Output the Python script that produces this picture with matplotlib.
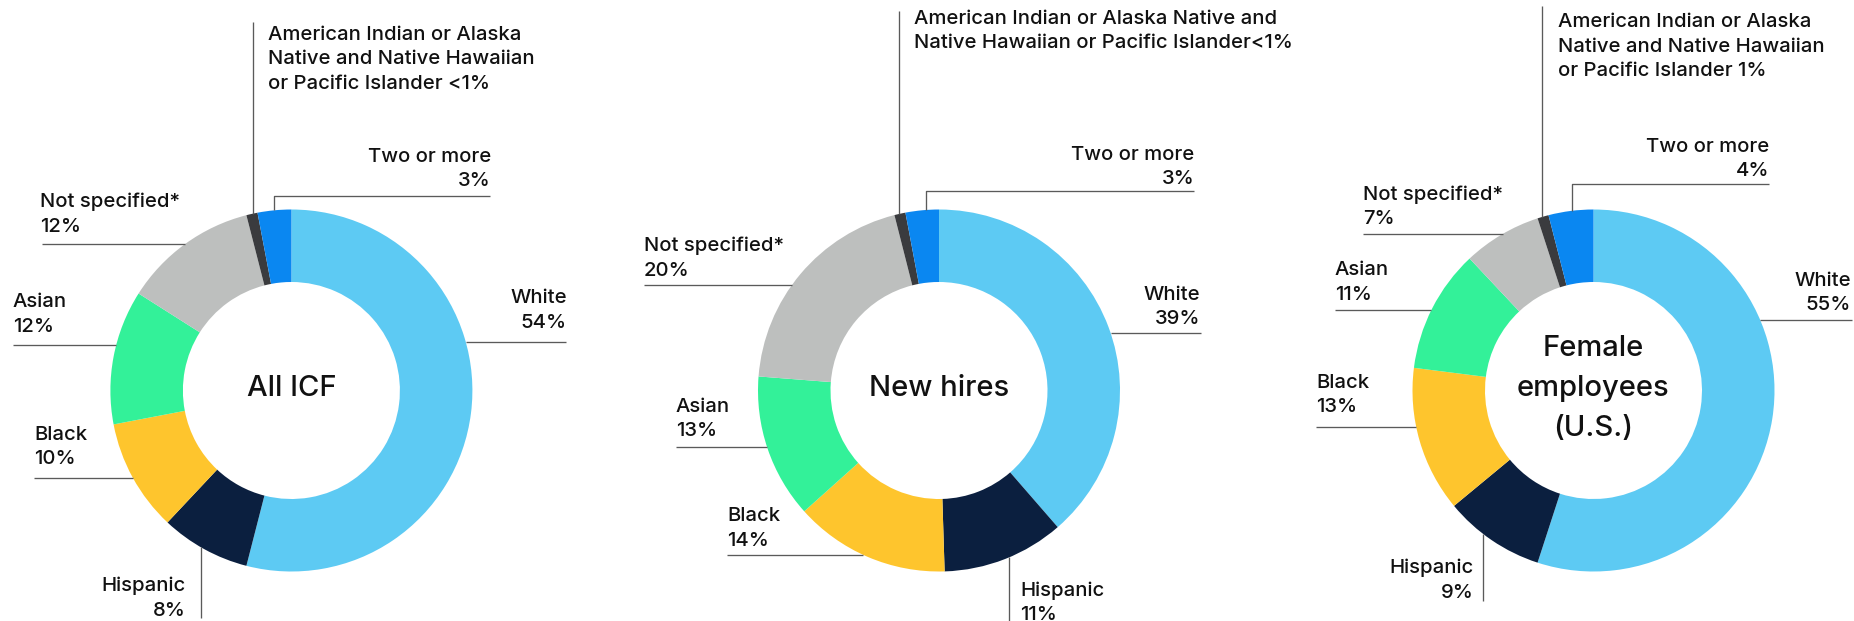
import matplotlib
matplotlib.use("Agg")
import matplotlib.pyplot as plt
import numpy as np

W, H = 1854, 621
plt.rcParams['font.family'] = ['Inter', 'DejaVu Sans']

categories = ["White", "Hispanic", "Black", "Asian", "Not specified*",
              "American Indian or Alaska Native and Native Hawaiian or Pacific Islander",
              "Two or more"]
colors = ["#5DCAF3", "#0B1F3F", "#FEC52D", "#33F199", "#BDBFBE", "#3A3B3E", "#0A87F1"]

all_icf = [54, 8, 10, 12, 12, 1, 3]
new_hires = [39, 11, 14, 13, 20, 1, 3]
female = [55, 9, 13, 11, 7, 1, 4]

all_icf_pct = ["54%", "8%", "10%", "12%", "12%", "<1%", "3%"]
new_hires_pct = ["39%", "11%", "14%", "13%", "20%", "<1%", "3%"]
female_pct = ["55%", "9%", "13%", "11%", "7%", "1%", "4%"]

titles = ["All ICF", "New hires", "Female\nemployees\n(U.S.)"]

aian_text = [
    "American Indian or Alaska\nNative and Native Hawaiian\nor Pacific Islander {}",
    "American Indian or Alaska Native and\nNative Hawaiian or Pacific Islander{}",
    "American Indian or Alaska\nNative and Native Hawaiian\nor Pacific Islander {}",
]

# ---- layout (pixel coordinates, y downward) ----
CY = 390.5
R = 181.0
RW = 72.5
centers = [291.4, 939.0, 1593.5]
FS = 14.6
LH = 24.5
LINE_C = "#5a5a5a"
TXT_C = "#111111"
WEIGHT = 500

layouts = [
    {
        0: dict(kind='h', x=567, ha='right', b=303, ly=342, lx=566, side=1),
        1: dict(kind='vb', x=186, ha='right', b=591, lx=200.8, lend=618),
        2: dict(kind='h', x=34, ha='left', b=440, ly=478, lx=34, side=-1),
        3: dict(kind='h', x=13, ha='left', b=307, ly=345, lx=13, side=-1),
        4: dict(kind='h', x=40, ha='left', b=207, ly=244.4, lx=42, side=-1),
        5: dict(kind='vt', x=268, ha='left', b=40, lx=252.8, ltop=22),
        6: dict(kind='elbow', x=491, ha='right', b=162, ly=195.6, lx=490.4, vx=274.4),
    },
    {
        0: dict(kind='h', x=1200, ha='right', b=300, ly=333, lx=1201, side=1),
        1: dict(kind='vb', x=1020, ha='left', b=596, lx=1009, lend=621),
        2: dict(kind='h', x=727, ha='left', b=521, ly=555, lx=727, side=-1),
        3: dict(kind='h', x=676, ha='left', b=412, ly=447, lx=676, side=-1),
        4: dict(kind='h', x=644, ha='left', b=251, ly=285, lx=644, side=-1),
        5: dict(kind='vt', x=914.4, ha='left', b=24, lx=899.2, ltop=11),
        6: dict(kind='elbow', x=1194.4, ha='right', b=160, ly=191, lx=1194.4, vx=926),
    },
    {
        0: dict(kind='h', x=1851, ha='right', b=286, ly=320, lx=1852, side=1),
        1: dict(kind='vb', x=1474, ha='right', b=573, lx=1483, lend=601),
        2: dict(kind='h', x=1316, ha='left', b=388, ly=427, lx=1316, side=-1),
        3: dict(kind='h', x=1335, ha='left', b=275, ly=310, lx=1335, side=-1),
        4: dict(kind='h', x=1363, ha='left', b=200, ly=234, lx=1363, side=-1),
        5: dict(kind='vt', x=1558, ha='left', b=27, lx=1542.4, ltop=5.6),
        6: dict(kind='elbow', x=1769, ha='right', b=152, ly=184, lx=1769, vx=1572),
    },
]

fig = plt.figure(figsize=(W / 100, H / 100), dpi=100)
ax = fig.add_axes([0, 0, 1, 1])


def Y(yp):
    return H - yp


def draw_text(x, b, s, ha):
    for i, line in enumerate(s.split("\n")):
        ax.text(x, Y(b + i * LH), line, ha=ha, va='baseline', fontsize=FS,
                color=TXT_C, fontweight=WEIGHT)


def line(xs, ys):
    ax.plot(xs, [Y(v) for v in ys], color=LINE_C, lw=0.95, solid_capstyle='butt')


datasets = [all_icf, new_hires, female]
pcts = [all_icf_pct, new_hires_pct, female_pct]

for k in range(3):
    cx = centers[k]
    vals = datasets[k]
    ax.pie(vals, colors=colors, startangle=90, counterclock=False,
           center=(cx, Y(CY)), radius=R,
           wedgeprops=dict(width=RW, edgecolor='none', linewidth=0))
    ax.text(cx, Y(CY - 2), titles[k], ha='center', va='center', fontsize=21,
            color=TXT_C, linespacing=1.6, fontweight=WEIGHT)
    for i, cat in enumerate(categories):
        L = layouts[k][i]
        if i == 5:
            label = aian_text[k].format(pcts[k][i])
        else:
            label = cat + "\n" + pcts[k][i]
        draw_text(L['x'], L['b'], label, L['ha'])
        kind = L['kind']
        if kind == 'h':
            dy = L['ly'] - CY
            xe = cx + L['side'] * np.sqrt(R ** 2 - dy ** 2)
            line([L['lx'], xe], [L['ly'], L['ly']])
        elif kind == 'vb':
            dx = L['lx'] - cx
            ye = CY + np.sqrt(R ** 2 - dx ** 2)
            line([L['lx'], L['lx']], [ye, L['lend']])
        elif kind == 'vt':
            dx = L['lx'] - cx
            ye = CY - np.sqrt(R ** 2 - dx ** 2)
            line([L['lx'], L['lx']], [L['ltop'], ye])
        elif kind == 'elbow':
            dx = L['vx'] - cx
            ye = CY - np.sqrt(R ** 2 - dx ** 2)
            line([L['lx'], L['vx'], L['vx']], [L['ly'], L['ly'], ye])

ax.set_xlim(0, W)
ax.set_ylim(0, H)
ax.set_aspect('auto')
ax.axis('off')
fig.savefig("out.png", dpi=100, facecolor='white')
